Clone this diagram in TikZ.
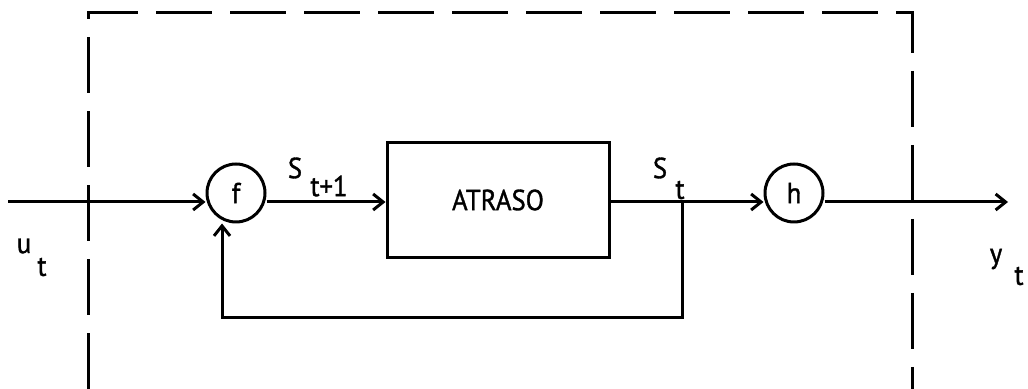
\documentclass[tikz,border=0pt]{standalone}
\usepackage{fontspec}
\setmainfont{PT Sans}[FakeStretch=0.92,FakeBold=1.2]
\usetikzlibrary{arrows.meta}
\begin{document}
\begin{tikzpicture}[x=0.5pt,y=-0.5pt,
  line/.style={line width=1.5pt},
  arr/.style={line, -{Straight Barb[length=5pt,width=8pt,line width=1.5pt]}},
  txt/.style={font=\fontsize{14.5}{17}\selectfont},
  op/.style={circle, draw, line width=1.5pt, minimum size=29pt, inner sep=0pt, txt},
  lbl/.style={inner sep=0pt, txt},
  blk/.style={rectangle, draw, line width=1.5pt, minimum width=111pt, minimum height=57.5pt, inner sep=0pt, txt},
  frame/.style={line width=1.5pt, dash pattern=on 28pt off 9pt}]
\useasboundingbox (0,0) rectangle (1028,389);
% frame
\draw[frame] (88,389) -- (88,13) -- (912,13) -- (912,389);
% nodes
\node[op] (f) at (236,193) {f};
\node[blk] (d) at (498,200) {ATRASO};
\node[op] (h) at (794,193) {h};
\coordinate (in) at (8,202);
\coordinate (out) at (1008,202);
\coordinate (br) at (682,202);
\coordinate (fb) at (222,318);
% connectors
\draw[arr] (in) -- (f.west |- in);
\draw[arr] ([yshift=-4.5pt]f.east) -- (d.west |- in);
\draw[line] (d.east |- in) -- (br);
\draw[arr] (br) -- (h.west |- in);
\draw[arr] ([yshift=-4.5pt]h.east) -- (out);
\draw[arr] (br) -- (br |- fb) -- (fb) -- (fb |- f.south);
% labels
\node[lbl] (s1) at (295,168) {S};
\node[lbl] (s1b) at (329,186) {t+1};
\node[lbl] (s2) at (660,168) {S};
\node[lbl] (s2b) at (680,190) {t};
\node[lbl] (u) at (24,246) {u};
\node[lbl] (ub) at (42,267) {t};
\node[lbl] (y) at (996,259) {y};
\node[lbl] (yb) at (1019,276) {t};
\end{tikzpicture}
\end{document}
